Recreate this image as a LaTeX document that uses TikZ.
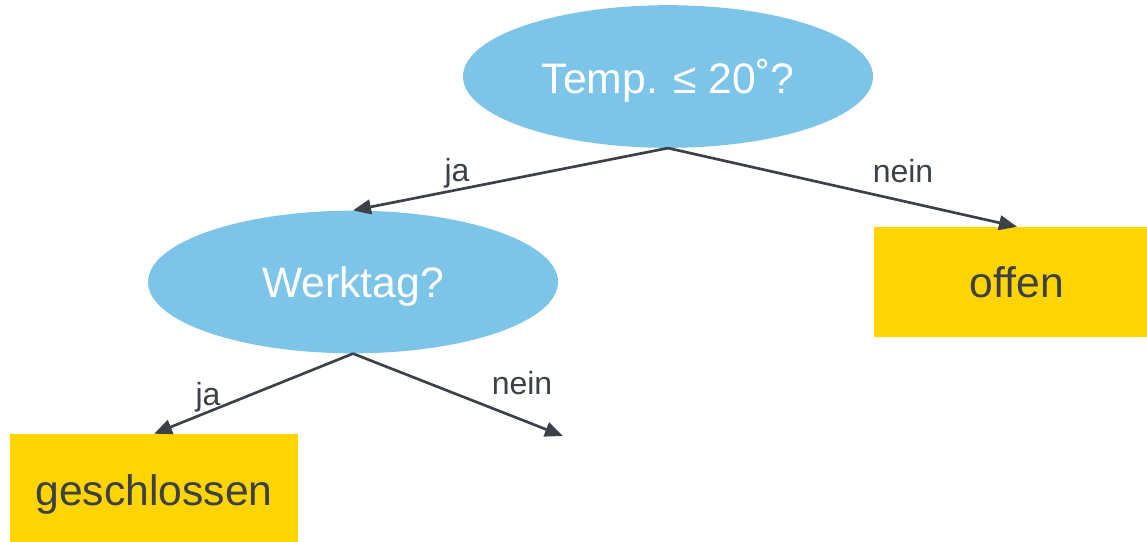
\documentclass[tikz,border=0pt]{standalone}
\usepackage{fontspec}
\setmainfont{Liberation Sans}
\usetikzlibrary{shapes.geometric,arrows.meta}
\definecolor{blu}{HTML}{7DC5E8}
\definecolor{yel}{HTML}{FFD400}
\definecolor{dark}{HTML}{3C4049}
\begin{document}
\begin{tikzpicture}[x=0.75pt,y=-0.75pt,
  decision/.style={ellipse, fill=blu, minimum width=307.5pt, minimum height=107pt, inner sep=0pt, text depth=0pt, text=white, font=\fontsize{32}{38}\selectfont},
  leaf/.style={rectangle, fill=yel, text=dark, inner sep=0pt, text depth=0pt, font=\fontsize{32}{38}\selectfont},
  edge/.style={draw=dark, line width=2pt, -{Triangle[length=13.5pt,width=11pt]}},
  lbl/.style={text=dark, inner sep=0pt, anchor=base, font=\fontsize{24}{28}\selectfont}]
\useasboundingbox (0,0) rectangle (1147,542);
\node[decision] (temp) at (668,76.5) {Temp. ≤ 20˚?};
\node[decision] (werk) at (353,282) {Werktag?};
\node[leaf, minimum width=214.5pt, minimum height=82.5pt] (offen) at (1017,282) {offen};
\node[leaf, minimum width=216pt, minimum height=84pt] (gesch) at (154,490) {geschlossen};
\coordinate (free) at (563,436);
\draw[edge] (temp.south) -- (werk.north);
\draw[edge] (temp.south) -- (offen.north);
\draw[edge] (werk.south) -- (gesch.north);
\draw[edge] (werk.south) -- (free);
\node[lbl] (l1) at (457,181) {ja};
\node[lbl] (l2) at (903,182) {nein};
\node[lbl] (l3) at (208,405) {ja};
\node[lbl] (l4) at (522,394) {nein};
\end{tikzpicture}
\end{document}
